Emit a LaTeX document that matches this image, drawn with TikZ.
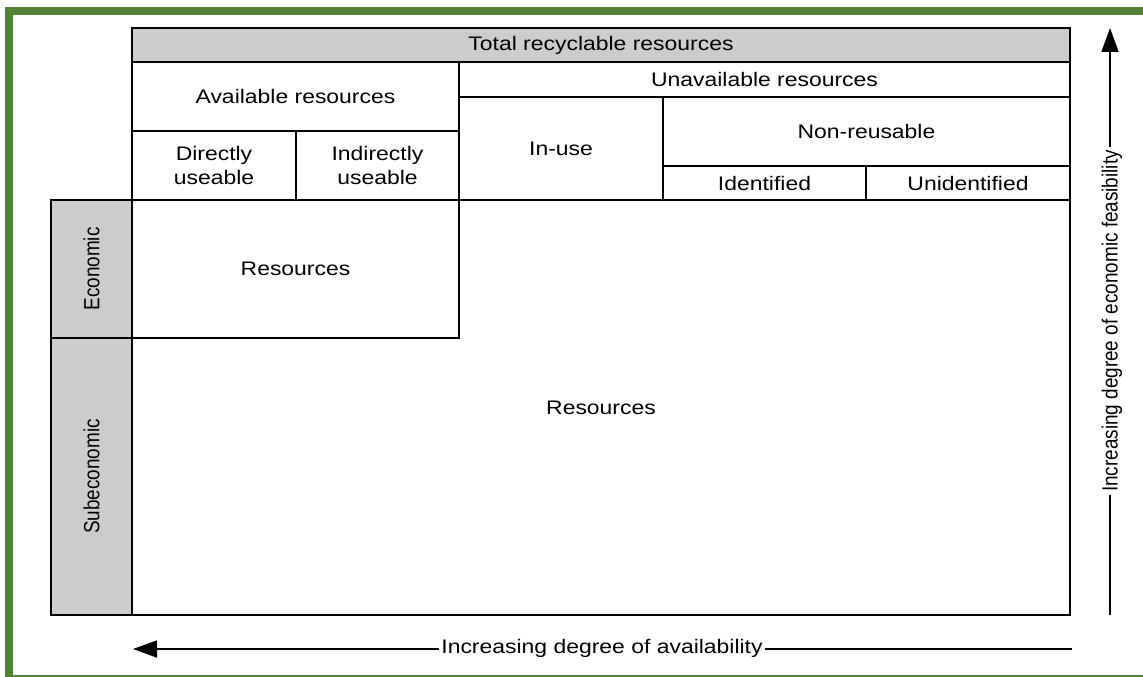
\documentclass[tikz,border=0pt]{standalone}
\usepackage{fontspec}
\setmainfont{Liberation Sans}[FakeStretch=1.17]
\newfontfamily\vertfont{Liberation Sans}[FakeStretch=0.86]
\usetikzlibrary{arrows.meta}

\definecolor{framegreen}{RGB}{84,130,53}
\definecolor{cellgray}{RGB}{204,204,204}

\tikzset{
  cell/.style={draw, line width=2pt, inner sep=0pt, outer sep=0pt, anchor=north west, align=center, font=\fontsize{19.6}{23.5}\selectfont},
  graycell/.style={cell, fill=cellgray},
  vlabel/.style={rotate=90, inner sep=0pt, font=\vertfont\fontsize{22}{26}\selectfont},
  hlabel/.style={inner sep=2pt, fill=white, font=\fontsize{19.6}{23.5}\selectfont},
  axis/.style={line width=1.8pt},
  axistip/.style={axis, -{Triangle[length=24pt,width=17pt]}}
}

\begin{document}
\begin{tikzpicture}[x=1pt,y=1pt,yscale=-1,xscale=1]
\useasboundingbox (0,0) rectangle (1143,677);
\clip (0,0) rectangle (1143,677);

%Shape: Frame
\draw [framegreen, line width=8pt] (9,11) rectangle (1170,679);

%Shape: header row
\node [graycell, minimum width=938, minimum height=34] (total) at (132,28) {Total recyclable resources};
\node [cell, minimum width=327, minimum height=69] (avail) at (132,62) {Available resources};
\node [cell, minimum width=611, minimum height=35] (unavail) at (459,62) {Unavailable resources};
\node [cell, minimum width=164, minimum height=69] (direct) at (132,131) {Directly\\useable};
\node [cell, minimum width=163, minimum height=69] (indirect) at (296,131) {Indirectly\\useable};
\node [cell, minimum width=204, minimum height=103] (inuse) at (459,97) {In-use};
\node [cell, minimum width=407, minimum height=69] (nonreuse) at (663,97) {Non-reusable};
\node [cell, minimum width=203, minimum height=34] (ident) at (663,166) {Identified};
\node [cell, minimum width=204, minimum height=34] (unident) at (866,166) {Unidentified};

%Shape: resource blocks
\node [cell, minimum width=938, minimum height=415] (subres) at (132,200) {Resources};
\node [cell, fill=white, minimum width=327, minimum height=138] (econres) at (132,200) {Resources};

%Shape: left column
\node [graycell, minimum width=81, minimum height=138] (econ) at (51,200) {};
\node [graycell, minimum width=81, minimum height=277] (subecon) at (51,338) {};
\node [vlabel] (econtxt) at (econ.center) {Economic};
\node [vlabel] (subecontxt) at (subecon.center) {Subeconomic};

% Text Node: availability axis
\node [hlabel] (availtxt) at (602,648) {Increasing degree of availability};
\coordinate (availR) at (1072,649);
\coordinate (availL) at (133,649);
\draw [axis] (availR) -- (availtxt.east |- availR);
\draw [axistip] (availtxt.west |- availL) -- (availL);

% Text Node: feasibility axis
\node [vlabel, inner sep=3pt] (feastxt) at (1112,321) {Increasing degree of economic feasibility};
\coordinate (feasB) at (1110,615);
\coordinate (feasT) at (1110,28);
\draw [axis] (feasB) -- (feastxt.west -| feasB);
\draw [axistip] (feastxt.east -| feasT) -- (feasT);

\end{tikzpicture}
\end{document}
